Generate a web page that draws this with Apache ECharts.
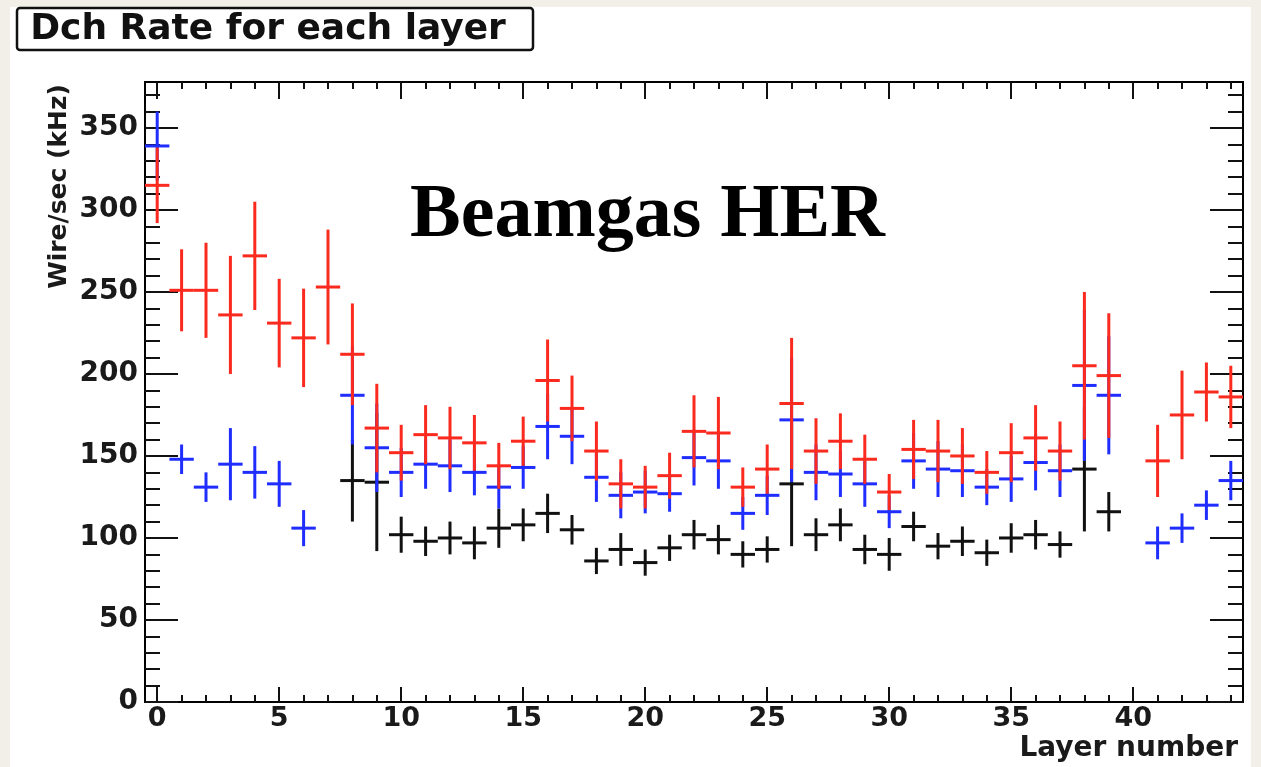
<!DOCTYPE html>
<html><head><meta charset="utf-8">
<script src="https://cdn.jsdelivr.net/npm/echarts@6/dist/echarts.min.js"></script>
<style>
html,body{margin:0;padding:0;background:#f2efe8;overflow:hidden;}
#bg{position:absolute;left:10px;top:7px;width:1241px;height:760px;background:#fff;}
#chart{position:absolute;left:0;top:0;width:1261px;height:767px;}
</style></head><body>
<div id="bg"></div><div id="chart"></div>
<script>
// Layer numbers (x positions)
const layers = [0,1,2,3,4,5,6,7,8,9,10,11,12,13,14,15,16,17,18,19,20,21,22,23,24,25,26,27,28,29,30,31,32,33,34,35,36,37,38,39,40,41,42,43,44];

// Red series: rate and error (kHz)
const redValues = [315,251,251,236,272,231,222,253,212,167,152,163,161,158,144,159,196,179,153,133,131,138,165,164,131,142,182,153,159,148,128,154,153,150,140,152,161,153,205,199,null,147,175,189,186];
const redErrors = [23,25,29,36,33,27,30,35,31,27,17,18,19,17,14,15,25,20,18,15,13,14,22,22,12,15,40,20,17,15,11,18,19,17,13,18,20,18,45,38,null,22,27,18,19];

// Blue series
const blueValues = [339,148,131,145,140,133,106,null,187,155,140,145,144,140,131,143,168,162,137,126,128,127,149,147,115,126,172,140,139,133,116,147,142,141,131,136,146,141,193,187,null,97,106,120,135];
const blueErrors = [21,9,9,22,16,14,11,null,30,27,15,15,16,14,13,13,20,17,15,14,13,11,17,17,10,12,38,17,14,14,10,17,17,16,11,14,17,16,46,36,null,10,9,9,12];

// Black series
const blackValues = [null,null,null,null,null,null,null,null,135,134,102,98,100,97,106,108,115,105,86,93,85,94,102,99,90,93,133,102,108,93,90,107,95,98,91,100,102,96,142,116,null,null,null,null,null];
const blackErrors = [null,null,null,null,null,null,null,null,25,42,11,9,10,10,12,10,12,9,8,10,8,8,9,9,8,8,38,10,10,9,10,9,8,9,8,9,9,8,38,12,null,null,null,null,null];

// Axis tick / label positions
const xLabelValues = [0,5,10,15,20,25,30,35,40];
const xMinorValues = [0,1,2,3,4,5,6,7,8,9,10,11,12,13,14,15,16,17,18,19,20,21,22,23,24,25,26,27,28,29,30,31,32,33,34,35,36,37,38,39,40,41,42,43,44];
const yLabelValues = [0,50,100,150,200,250,300,350];
const yMinorValues = [0,10,20,30,40,50,60,70,80,90,100,110,120,130,140,150,160,170,180,190,200,210,220,230,240,250,260,270,280,290,300,310,320,330,340,350,360,370];

const titleText = 'Dch Rate for each layer';
const plotLabel = 'Beamgas HER';
const xTitle = 'Layer number';
const yTitle = 'Wire/sec (kHz)';

function buildData(vals, errs) {
  const out = [];
  layers.forEach((x, i) => { if (vals[i] != null) out.push([x, vals[i], errs[i]]); });
  return out;
}

function makeRender(color) {
  return function (params, api) {
    const x = api.value(0), y = api.value(1), e = api.value(2);
    const pL = api.coord([x - 0.5, y]);
    const pR = api.coord([x + 0.5, y]);
    const pT = api.coord([x, y + e]);
    const pB = api.coord([x, y - e]);
    return {
      type: 'group',
      children: [
        { type: 'line', shape: { x1: pT[0], y1: pT[1], x2: pB[0], y2: pB[1] }, style: { stroke: color, lineWidth: 3 } },
        { type: 'line', shape: { x1: pL[0], y1: pL[1], x2: pR[0], y2: pR[1] }, style: { stroke: color, lineWidth: 3 } }
      ]
    };
  };
}

const labelFont = { fontFamily: 'DejaVu Sans', fontWeight: 'bold', color: '#1a1a1a' };

function xAx(position, ticks, len, labels) {
  return {
    type: 'value', position: position, min: -0.5, max: 44.5,
    axisLine: { show: false, onZero: false }, splitLine: { show: false },
    axisTick: { show: true, inside: true, length: len, customValues: ticks, lineStyle: { color: '#111', width: 2 } },
    axisLabel: labels ? Object.assign({ show: true, customValues: xLabelValues, fontSize: 27, margin: 3 }, labelFont) : { show: false }
  };
}
function yAx(position, ticks, len, labels) {
  return {
    type: 'value', position: position, min: 0, max: 378,
    axisLine: { show: false, onZero: false }, splitLine: { show: false },
    axisTick: { show: true, inside: true, length: len, customValues: ticks, lineStyle: { color: '#111', width: 2 } },
    axisLabel: labels ? Object.assign({ show: true, customValues: yLabelValues, fontSize: 28, margin: 7 }, labelFont) : { show: false }
  };
}

const chart = echarts.init(document.getElementById('chart'), null, { renderer: 'canvas' });
chart.setOption({
  backgroundColor: 'transparent',
  animation: false,
  grid: { left: 145, top: 82, width: 1098, height: 620, show: true, borderColor: '#000', borderWidth: 2, backgroundColor: 'transparent' },
  xAxis: [
    xAx('bottom', xLabelValues, 15, true),
    xAx('bottom', xMinorValues, 7, false),
    xAx('top', xLabelValues, 17, false),
    xAx('top', xMinorValues, 7, false)
  ],
  yAxis: [
    yAx('left', yLabelValues, 33, true),
    yAx('left', yMinorValues, 15, false),
    yAx('right', yLabelValues, 33, false),
    yAx('right', yMinorValues, 15, false)
  ],
  graphic: [
    { type: 'rect', shape: { x: 17, y: 8, width: 516, height: 42, r: 3 }, style: { fill: '#fff', stroke: '#111', lineWidth: 2.5 }, z: 10 },
    { type: 'text', x: 268, y: 30, style: { text: titleText, font: 'bold 36px "DejaVu Sans"', fill: '#111', align: 'center', verticalAlign: 'middle' }, z: 11 },
    { type: 'text', x: 410, y: 216, style: { text: plotLabel, font: 'bold 76px "Liberation Serif"', fill: '#000', align: 'left', verticalAlign: 'middle' }, z: 11 },
    { type: 'text', x: 1238, y: 749, style: { text: xTitle, font: 'bold 28px "DejaVu Sans"', fill: '#1a1a1a', align: 'right', verticalAlign: 'middle' }, z: 11 },
    { type: 'text', x: 59, y: 84, rotation: Math.PI / 2, style: { text: yTitle, font: 'bold 25px "DejaVu Sans"', fill: '#1a1a1a', align: 'right', verticalAlign: 'middle' }, z: 11 }
  ],
  series: [
    { type: 'custom', name: 'black', xAxisIndex: 0, yAxisIndex: 0, z: 2, renderItem: makeRender('#111111'), data: buildData(blackValues, blackErrors) },
    { type: 'custom', name: 'blue', xAxisIndex: 0, yAxisIndex: 0, z: 3, renderItem: makeRender('#1f2dff'), data: buildData(blueValues, blueErrors) },
    { type: 'custom', name: 'red', xAxisIndex: 0, yAxisIndex: 0, z: 4, renderItem: makeRender('#fb2a1f'), data: buildData(redValues, redErrors) }
  ]
});
</script>
</body></html>
